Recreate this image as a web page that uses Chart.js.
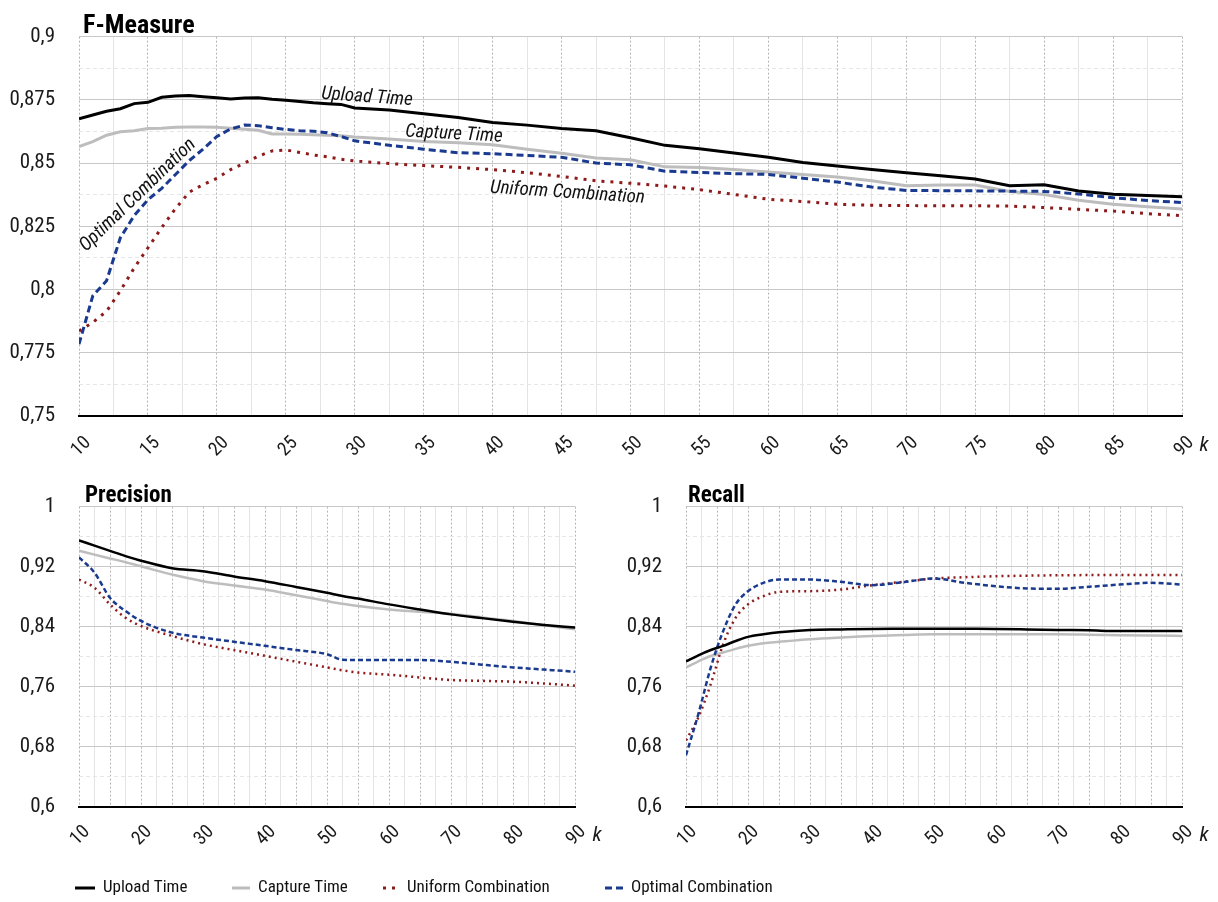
<!DOCTYPE html>
<html>
<head>
<meta charset="utf-8">
<script src="https://cdn.jsdelivr.net/npm/chart.js@4.4.1/dist/chart.umd.min.js"></script>
<style>
  html, body { margin: 0; padding: 0; background: #fff; }
  body { width: 1218px; height: 902px; position: relative; overflow: hidden; }
  canvas { position: absolute; }
  #fmeasure { left: 0; top: 0; }
  #precision { left: 0; top: 470px; }
  #recall { left: 607px; top: 470px; }
</style>
</head>
<body>
<canvas id="fmeasure" width="1218" height="470"></canvas>
<canvas id="precision" width="1218" height="432"></canvas>
<canvas id="recall" width="611" height="432"></canvas>
<script>
// ---- data ----
const seriesNames = ["Upload Time", "Capture Time", "Uniform Combination", "Optimal Combination"];

// F-Measure, k values
const kTop = [10, 11, 12, 13, 14, 15, 16, 17, 18, 19, 20, 21, 22, 23, 24, 25, 26, 27, 28, 29, 30,
              32.5, 35, 37.5, 40, 42.5, 45, 47.5, 50, 52.5, 55, 57.5, 60, 62.5, 65, 67.5, 70,
              72.5, 75, 77.5, 80, 82.5, 85, 87.5, 90];
const fUpload  = [0.8675, 0.869, 0.8705, 0.8715, 0.8735, 0.874, 0.876, 0.8765, 0.8767, 0.8762, 0.8758,
                  0.8753, 0.8757, 0.8758, 0.8752, 0.8748, 0.8743, 0.8738, 0.8735, 0.8732, 0.8718,
                  0.871, 0.8695, 0.868, 0.866, 0.865, 0.8637, 0.8628, 0.860, 0.857, 0.8557, 0.854,
                  0.8523, 0.8502, 0.8488, 0.8475, 0.8462, 0.845, 0.8437, 0.841, 0.8414, 0.839,
                  0.8377, 0.8372, 0.8367];
const fCapture = [0.8565, 0.8585, 0.861, 0.8624, 0.8628, 0.8637, 0.8638, 0.8642, 0.8643, 0.8643, 0.8642,
                  0.8638, 0.8634, 0.863, 0.8615, 0.8615, 0.8614, 0.8612, 0.861, 0.8608, 0.8603,
                  0.8595, 0.8585, 0.858, 0.8572, 0.8555, 0.8539, 0.852, 0.8513, 0.8485, 0.8482, 0.8475,
                  0.8465, 0.8455, 0.8445, 0.843, 0.841, 0.8413, 0.8413, 0.8388, 0.8376, 0.8353,
                  0.8337, 0.8327, 0.8318];
const fUniform = [0.7836, 0.787, 0.7914, 0.7995, 0.8085, 0.8165, 0.8245, 0.832, 0.8385, 0.8415, 0.844,
                  0.8474, 0.850, 0.8527, 0.8548, 0.8552, 0.8542, 0.8532, 0.8525, 0.8515, 0.8508,
                  0.8498, 0.849, 0.8483, 0.8474, 0.8462, 0.8447, 0.843, 0.842, 0.8409, 0.8395, 0.8376,
                  0.8357, 0.8348, 0.8337, 0.8333, 0.8332, 0.8331, 0.8331, 0.833, 0.8324, 0.8317,
                  0.831, 0.830, 0.8292];
const fOptimal = [0.7784, 0.7975, 0.8035, 0.8205, 0.8292, 0.8355, 0.840, 0.8455, 0.851, 0.8555, 0.8605,
                  0.8635, 0.865, 0.8648, 0.864, 0.8633, 0.8628, 0.8626, 0.862, 0.8605, 0.8588,
                  0.857, 0.8555, 0.8541, 0.8537, 0.853, 0.8523, 0.850, 0.8493, 0.8468, 0.8463, 0.8458,
                  0.8455, 0.844, 0.8425, 0.8405, 0.8392, 0.8391, 0.839, 0.8389, 0.8388, 0.8378,
                  0.8363, 0.8352, 0.8344];

// Precision
const kPrec = [10, 12.5, 15, 17.5, 20, 25, 30, 35, 40, 45, 50, 52.5, 55, 60, 65, 70, 75, 80, 85, 90];
const pUpload  = [0.955, 0.948, 0.941, 0.934, 0.928, 0.918, 0.914, 0.907, 0.9007, 0.893, 0.8852, 0.881,
                  0.8775, 0.8698, 0.863, 0.8565, 0.8515, 0.8468, 0.8425, 0.8389];
const pCapture = [0.9413, 0.936, 0.931, 0.926, 0.9205, 0.9095, 0.9007, 0.895, 0.8896, 0.882, 0.8742,
                  0.8705, 0.8675, 0.8631, 0.860, 0.8574, 0.8525, 0.8477, 0.842, 0.8367];
const pUniform = [0.9029, 0.892, 0.8698, 0.852, 0.8411, 0.8278, 0.8168, 0.809, 0.8013, 0.7935, 0.7859,
                  0.782, 0.779, 0.7762, 0.7725, 0.7691, 0.768, 0.7669, 0.7645, 0.7616];
const pOptimal = [0.9325, 0.912, 0.8786, 0.861, 0.8477, 0.8322, 0.8256, 0.82, 0.8146, 0.809, 0.8035,
                  0.796, 0.7957, 0.7956, 0.7956, 0.7934, 0.7895, 0.7859, 0.783, 0.7801];

// Recall
const kRec = [10, 12, 14, 16, 18, 20, 22.5, 25, 30, 35, 40, 45, 50, 55, 60, 65, 70, 75, 80, 85, 90];
const rUpload  = [0.7938, 0.802, 0.809, 0.8146, 0.821, 0.8265, 0.830, 0.8327, 0.8358, 0.8365, 0.8371,
                  0.8373, 0.8375, 0.8373, 0.8371, 0.8365, 0.8358, 0.8352, 0.8344, 0.8344, 0.8344];
const rCapture = [0.7859, 0.794, 0.801, 0.8057, 0.8105, 0.8146, 0.818, 0.8199, 0.8234, 0.8258, 0.8278,
                  0.829, 0.830, 0.830, 0.830, 0.830, 0.830, 0.8295, 0.8287, 0.8282, 0.8278];
const rUniform = [0.6887, 0.7196, 0.7638, 0.8168, 0.852, 0.8698, 0.8808, 0.8865, 0.8874, 0.8896, 0.8954,
                  0.8998, 0.9042, 0.906, 0.9073, 0.908, 0.9086, 0.9088, 0.909, 0.909, 0.909];
const rOptimal = [0.6689, 0.7241, 0.7859, 0.8344, 0.8698, 0.8874, 0.8985, 0.9029, 0.9029, 0.8998, 0.8954,
                  0.8993, 0.9042, 0.8985, 0.894, 0.891, 0.8906, 0.8932, 0.8962, 0.8985, 0.8962];

// axis ticks
function range(a, b, s) {
  const out = [];
  for (let v = a; v <= b + 1e-9; v += s) out.push(+v.toFixed(4));
  return out;
}
const topXTicks = range(10, 90, 2.5);
const topYTicks = range(0.75, 0.9, 0.0125);
const subXTicks = range(10, 90, 2.5);
const subYTicks = range(0.6, 1, 0.04);

// ---- font: look for a narrow face, else fall back to DejaVu condensed ----
function pickFont() {
  const c = document.createElement("canvas").getContext("2d");
  const probe = "Upload Time 0,875 Combination";
  const w = f => { c.font = f; return c.measureText(probe).width; };
  const has = fam => ["monospace", "serif"].every(b => Math.abs(w('20px "' + fam + '", ' + b) - w("20px " + b)) > 0.5);
  const narrow = ["Liberation Sans Narrow", "Arial Narrow", "Roboto Condensed", "Noto Sans Condensed",
                  "Open Sans Condensed", "Noto Sans SemiCondensed", "Ubuntu Condensed"];
  for (const f of narrow) {
    if (has(f)) return { family: '"' + f + '"', stretch: "", scale: 1 };
  }
  for (const f of ["Noto Sans", "Open Sans", "Roboto", "Inter"]) {
    if (w('condensed 20px "' + f + '"') < w('20px "' + f + '"') - 2) {
      return { family: '"' + f + '"', stretch: "condensed", scale: 1 };
    }
  }
  return { family: '"DejaVu Sans Condensed", "DejaVu Sans"', stretch: "", scale: 0.88 };
}
const F = pickFont();
const FONT = F.family;
const fs = n => Math.round(n * F.scale);
const W_REG = F.stretch || "normal";
const cssFont = (pre, size) => pre + " " + (F.stretch ? F.stretch + " " : "") + fs(size) + "px " + FONT;

// ---- styling ----
const COLORS = ["#000000", "#bdbdbd", "#8e1b1b", "#1a3a8f"];
Chart.defaults.font.family = FONT;
Chart.defaults.font.weight = W_REG;
Chart.defaults.color = "#1a1a1a";
Chart.defaults.animation = false;

const isMult = (v, m) => Math.abs(v / m - Math.round(v / m)) < 1e-6;
const fmt = v => String(+v.toFixed(4)).replace(".", ",");

function toPoints(ks, ys) {
  return ks.map((k, i) => ({ x: k, y: ys[i] }));
}

function makeDatasets(ks, series, big) {
  const w = big ? 3 : 2.5;
  const dashes = [[], [], big ? [3, 6] : [2, 4], big ? [7, 4] : [5, 3]];
  const order = [0, 3, 2, 1];
  return series.map((ys, i) => ({
    label: seriesNames[i],
    data: toPoints(ks, ys),
    borderColor: COLORS[i],
    backgroundColor: COLORS[i],
    borderWidth: w,
    borderDash: dashes[i],
    borderCapStyle: "butt",
    pointRadius: 0,
    tension: big ? 0 : 0.4,
    cubicInterpolationMode: big ? "default" : "monotone",
    order: order[i]
  }));
}

function xScale(ticks, labelEvery, height, fontSize, pad, off) {
  return {
    type: "linear", min: 10, max: 90,
    afterBuildTicks: s => { s.ticks = ticks.map(v => ({ value: v })); },
    afterFit: s => { s.height = height; },
    ticks: {
      autoSkip: false, minRotation: 45, maxRotation: 45, padding: pad, labelOffset: off,
      font: { size: fs(fontSize), weight: W_REG },
      callback: v => isMult(v, labelEvery) ? String(v) : ""
    },
    grid: {
      drawTicks: false, lineWidth: 1,
      color: c => (c.tick && isMult(c.tick.value, 5)) ? "#b4b4b4" : "#e4e4e4"
    },
    border: {
      color: "#000", width: 2,
      dash: c => (c.tick && isMult(c.tick.value, 5)) ? [2, 2] : []
    }
  };
}

function yScale(ticks, min, max, labelEvery, fontSize) {
  const major = v => isMult(v - min, labelEvery);
  return {
    type: "linear", min: min, max: max,
    afterBuildTicks: s => { s.ticks = ticks.map(v => ({ value: v })); },
    afterFit: s => { s.width = 79; },
    ticks: {
      autoSkip: false, padding: 24, font: { size: fs(fontSize), weight: W_REG },
      callback: v => major(v) ? fmt(v) : ""
    },
    grid: {
      drawTicks: false, lineWidth: 1,
      color: c => (c.tick && major(c.tick.value)) ? "#c8c8c8" : "#e6e6e6"
    },
    border: {
      display: false,
      dash: c => (c.tick && !major(c.tick.value)) ? [4, 3] : []
    }
  };
}

// panel title, "k" label and line notes
const panelText = {
  id: "panelText",
  afterDraw(chart, args, opts) {
    const ctx = chart.ctx;
    const a = chart.chartArea;
    ctx.save();
    ctx.fillStyle = "#000";
    ctx.textBaseline = "alphabetic";
    ctx.textAlign = "left";
    ctx.font = cssFont("bold", opts.titleSize);
    ctx.fillText(opts.title, a.left + opts.titleDx, a.top + opts.titleDy);

    ctx.font = cssFont("italic", opts.kSize);
    ctx.textAlign = "center";
    ctx.textBaseline = "middle";
    ctx.fillStyle = "#1a1a1a";
    ctx.fillText("k", a.right + opts.kDx, a.bottom + opts.kDy);

    ctx.textAlign = "left";
    ctx.textBaseline = "alphabetic";
    (opts.notes || []).forEach(n => {
      const x = chart.scales.x.getPixelForValue(n.k);
      const y = chart.scales.y.getPixelForValue(n.v);
      ctx.save();
      ctx.translate(x, y);
      ctx.rotate(n.rot * Math.PI / 180);
      ctx.font = cssFont("italic", 19);
      ctx.fillStyle = "#111";
      ctx.fillText(n.text, 0, 0);
      ctx.restore();
    });
    ctx.restore();
  }
};

// shared legend under the two small panels
const sharedLegend = {
  id: "sharedLegend",
  afterDraw(chart, args, opts) {
    if (!opts.show) return;
    const ctx = chart.ctx;
    const y = opts.y;
    const items = [
      { x: 75, len: 20 }, { x: 232, len: 18 }, { x: 383, len: 16 }, { x: 605, len: 18 }
    ];
    ctx.save();
    chart.data.datasets.forEach((ds, i) => {
      const it = items[i];
      ctx.beginPath();
      ctx.strokeStyle = ds.borderColor;
      ctx.lineWidth = 3;
      ctx.lineCap = "butt";
      ctx.setLineDash(i === 2 ? [3, 6] : i === 3 ? [7, 4] : []);
      ctx.moveTo(it.x, y);
      ctx.lineTo(it.x + it.len, y);
      ctx.stroke();
      ctx.setLineDash([]);
      ctx.font = cssFont("normal", 17);
      ctx.fillStyle = "#111";
      ctx.textBaseline = "middle";
      ctx.textAlign = "left";
      ctx.fillText(ds.label, it.x + it.len + 8, y);
    });
    ctx.restore();
  }
};

function makeChart(id, cfg) {
  new Chart(document.getElementById(id), {
    type: "line",
    data: { datasets: cfg.datasets },
    options: {
      responsive: false,
      maintainAspectRatio: false,
      layout: { padding: cfg.padding },
      scales: { x: cfg.x, y: cfg.y },
      plugins: {
        legend: { display: false },
        tooltip: { enabled: false },
        panelText: cfg.text,
        sharedLegend: cfg.legend || { show: false }
      }
    },
    plugins: [panelText, sharedLegend]
  });
}

makeChart("fmeasure", {
  datasets: makeDatasets(kTop, [fUpload, fCapture, fUniform, fOptimal], true),
  padding: { top: 32, right: 36, bottom: 0, left: 0 },
  x: xScale(topXTicks, 5, 54, 19, 16, 9),
  y: yScale(topYTicks, 0.75, 0.9, 0.025, 21),
  text: {
    title: "F-Measure", titleSize: 26, titleDx: 4, titleDy: -4,
    kSize: 21, kDx: 22, kDy: 30,
    notes: [
      { text: "Upload Time", k: 27.55, v: 0.8754, rot: 4 },
      { text: "Capture Time", k: 33.64, v: 0.8605, rot: 3 },
      { text: "Uniform Combination", k: 39.8, v: 0.8383, rot: 3.8 },
      { text: "Optimal Combination", k: 10.5, v: 0.8148, rot: -44 }
    ]
  }
});

makeChart("precision", {
  datasets: makeDatasets(kPrec, [pUpload, pCapture, pUniform, pOptimal], false),
  padding: { top: 35, right: 643, bottom: 45, left: 0 },
  x: xScale(subXTicks, 10, 50, 19, 14, 8),
  y: yScale(subYTicks, 0.6, 1, 0.08, 21),
  text: { title: "Precision", titleSize: 23, titleDx: 6, titleDy: -5, kSize: 21, kDx: 22, kDy: 29 },
  legend: { show: true, y: 418 }
});

makeChart("recall", {
  datasets: makeDatasets(kRec, [rUpload, rCapture, rUniform, rOptimal], false),
  padding: { top: 35, right: 36, bottom: 45, left: 0 },
  x: xScale(subXTicks, 10, 50, 19, 14, 8),
  y: yScale(subYTicks, 0.6, 1, 0.08, 21),
  text: { title: "Recall", titleSize: 23, titleDx: 2, titleDy: -5, kSize: 21, kDx: 22, kDy: 29 }
});
</script>
</body>
</html>
